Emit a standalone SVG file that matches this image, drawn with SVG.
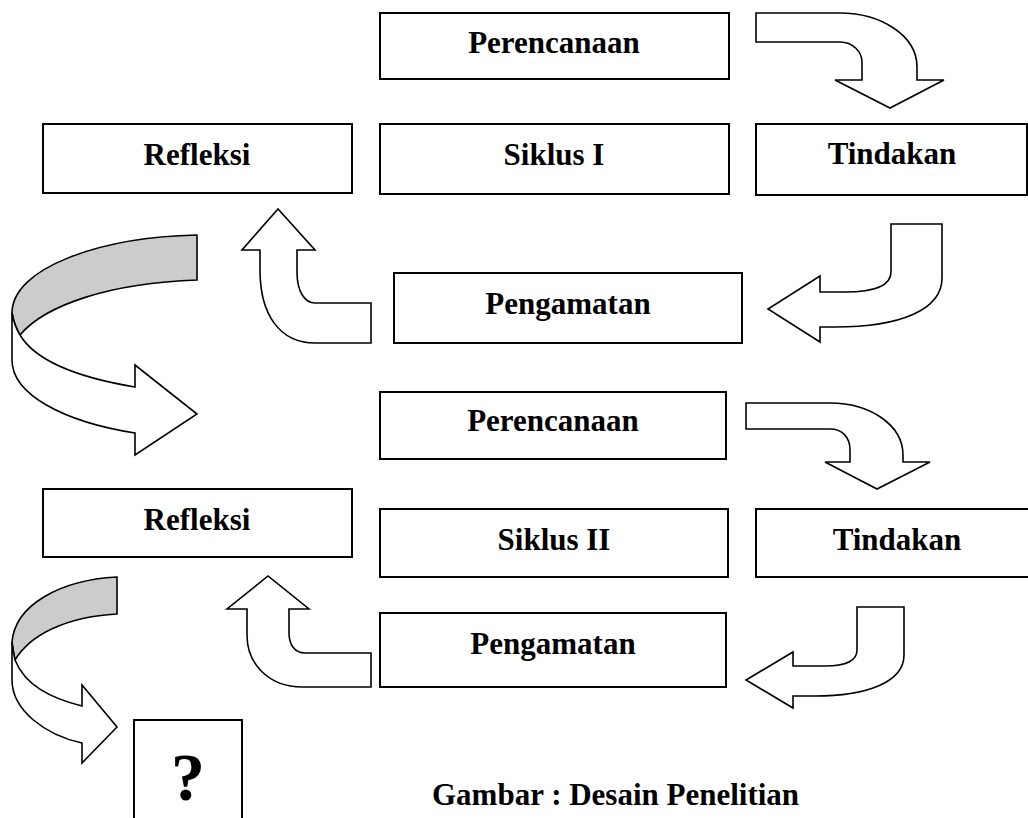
<svg xmlns="http://www.w3.org/2000/svg" width="1028" height="818" viewBox="0 0 1028 818">
<style>
.box{fill:#fff;stroke:#000;stroke-width:2}
.lbl{font-family:"Liberation Serif","Times New Roman",serif;font-weight:bold;font-size:31px;fill:#000;text-anchor:middle}
.arr{fill:#fff;stroke:#000;stroke-width:1.6;stroke-linejoin:miter}
.gray{fill:#cccccc;stroke:#000;stroke-width:1.6}
</style>
<rect width="1028" height="818" fill="#fff"/>
<g id="perencanaan1"><rect class="box" x="380" y="13" width="349" height="66"/><text class="lbl" x="554" y="53">Perencanaan</text></g>
<g id="refleksi1"><rect class="box" x="43" y="124" width="309" height="69"/><text class="lbl" x="197" y="165">Refleksi</text></g>
<g id="siklus1"><rect class="box" x="380" y="124" width="349" height="70"/><text class="lbl" x="554" y="165">Siklus I</text></g>
<g id="tindakan1"><rect class="box" x="756" y="124" width="271" height="71"/><text class="lbl" x="892" y="164">Tindakan</text></g>
<g id="pengamatan1"><rect class="box" x="394" y="273" width="348" height="70"/><text class="lbl" x="568" y="314">Pengamatan</text></g>
<g id="perencanaan2"><rect class="box" x="380" y="392" width="346" height="67"/><text class="lbl" x="553" y="431">Perencanaan</text></g>
<g id="refleksi2"><rect class="box" x="43" y="489" width="309" height="68"/><text class="lbl" x="197" y="530">Refleksi</text></g>
<g id="siklus2"><rect class="box" x="380" y="509" width="348" height="68"/><text class="lbl" x="554" y="550">Siklus II</text></g>
<g id="tindakan2"><rect class="box" x="756" y="509" width="290" height="68"/><text class="lbl" x="897" y="550">Tindakan</text></g>
<g id="pengamatan2"><rect class="box" x="380" y="613" width="346" height="74"/><text class="lbl" x="553" y="654">Pengamatan</text></g>
<g id="tanya"><rect class="box" x="134" y="720" width="108" height="100"/><text class="lbl" x="188" y="800" style="font-size:68px">?</text></g>
<g id="connectors">
<path class="arr" d="M756,13 L840,13 C880,13 917,35 917,67 L917,80 L944,80 L890,108 L835,80 L862,80 L862,62 C862,52 853,42 840,42 L756,42 Z"/>
<path class="arr" d="M942,224 L942,278 C942,310 900,327 835,327 L820,327 L820,342 L768,309 L820,276 L820,292 L845,292 C875,292 891,285 891,272 L891,224 Z"/>
<path class="arr" d="M371,303 L315,303 C305,303 297,292 297,272 L297,250 L315,250 L278,209 L242,250 L260,250 L260,270 C260,315 280,343 315,343 L371,343 Z"/>
<path class="gray" d="M197,235 L197,280 C110,283 45,305 20,335 Q14,325 12,313 C12,268 100,237 197,235 Z"/>
<path class="arr" d="M12,313 L12,360 C12,395 65,422 135,433 L135,455 L197,414 L135,365 L135,387 C75,377 35,360 20,335 Q14,325 12,313 Z"/>
<path class="arr" d="M746,403 L830,403 C870,403 903,425 903,455 L903,462 L930,462 L877,489 L825,462 L850,462 L850,450 C850,437 842,429 830,429 L746,429 Z"/>
<path class="arr" d="M904,607 L904,655 C904,683 865,696 815,696 L793,696 L793,708 L746,680 L793,652 L793,666 L825,666 C848,666 857,660 857,650 L857,607 Z"/>
<path class="arr" d="M371,653 L305,653 C295,653 289,645 289,633 L289,609 L309,609 L268,576 L227,609 L247,609 L247,635 C247,665 270,687 302,687 L371,687 Z"/>
<path class="gray" d="M117,577 L117,614 C65,617 30,635 15,660 Q13,651 12,642 C15,605 60,580 117,577 Z"/>
<path class="arr" d="M12,642 L12,680 C12,710 45,735 82,743 L82,763 L117,727 L82,685 L82,706 C50,698 25,685 15,660 Q13,651 12,642 Z"/>
</g>
<text class="lbl" x="432" y="805" style="text-anchor:start">Gambar : Desain Penelitian</text>
</svg>
